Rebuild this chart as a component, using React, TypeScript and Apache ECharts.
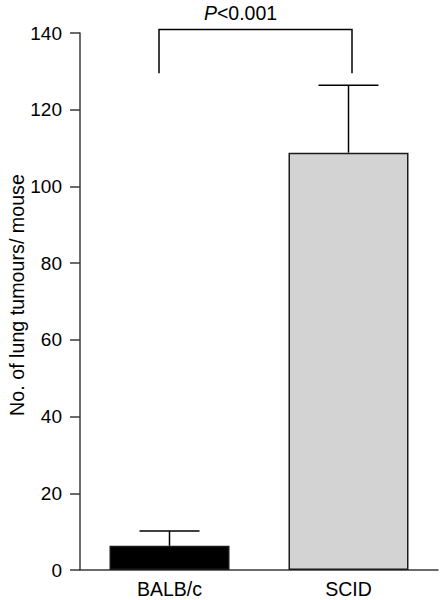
import React, { useEffect, useRef } from "react";
import * as echarts from "echarts";

const categories = ["BALB/c", "SCID"];
const meanValues = [6.3, 108.8];
const errorValues = [3.9, 17.6];
const barColors = ["#000000", "#d3d3d3"];
const yTicks = { min: 0, max: 140, interval: 20 };
const bracket = { from: 0, to: 1, low: 129.5, high: 140.9 };
const pValueText = "P<0.001";
const yAxisTitle = "No. of lung tumours/ mouse";

const FONT = "'Liberation Sans', Arial, Helvetica, sans-serif";
const AXIS_COLOR = "#3a3a3a";

export default function App() {
  const ref = useRef<HTMLDivElement>(null);

  useEffect(() => {
    if (!ref.current) return;
    const chart = echarts.init(ref.current, undefined, { renderer: "svg" });

    const errorData = categories.map((_, i) => [i, meanValues[i], meanValues[i] + errorValues[i]]);

    chart.setOption({
      animation: false,
      backgroundColor: "#ffffff",
      grid: { left: 80, right: 2, top: 33, bottom: 30, containLabel: false },
      xAxis: {
        type: "category",
        data: categories,
        axisLine: { show: true, lineStyle: { color: AXIS_COLOR, width: 1.5 } },
        axisTick: { show: false },
        axisLabel: { color: "#000", fontSize: 19.5, fontFamily: FONT, margin: 9 },
        splitLine: { show: false },
      },
      yAxis: {
        type: "value",
        min: yTicks.min,
        max: yTicks.max,
        interval: yTicks.interval,
        axisLine: { show: true, lineStyle: { color: AXIS_COLOR, width: 1.5 } },
        axisTick: { show: true, inside: false, length: 10, lineStyle: { color: AXIS_COLOR, width: 1.5 } },
        axisLabel: { color: "#000", fontSize: 19, fontFamily: FONT, margin: 18 },
        splitLine: { show: false },
      },
      graphic: [
        {
          type: "text",
          x: 17,
          y: 295,
          rotation: Math.PI / 2,
          style: {
            text: yAxisTitle,
            fontSize: 19.7,
            fontFamily: FONT,
            fill: "#000",
            align: "center",
            verticalAlign: "middle",
          },
        },
      ],
      series: [
        {
          type: "bar",
          data: meanValues.map((v, i) => ({
            value: v,
            itemStyle: {
              color: barColors[i],
              borderColor: "#1a1a1a",
              borderWidth: 1.5,
            },
          })),
          barWidth: 120,
          z: 2,
        },
        {
          type: "custom",
          z: 3,
          data: errorData,
          renderItem: (params: any, api: any) => {
            const x = api.value(0);
            const base = api.coord([x, api.value(1)]);
            const top = api.coord([x, api.value(2)]);
            const half = 30;
            const style = { stroke: "#000", lineWidth: 1.5 };
            return {
              type: "group",
              children: [
                { type: "line", shape: { x1: base[0], y1: base[1], x2: top[0], y2: top[1] }, style },
                { type: "line", shape: { x1: top[0] - half, y1: top[1], x2: top[0] + half, y2: top[1] }, style },
              ],
            };
          },
        },
        {
          type: "custom",
          z: 3,
          clip: false,
          data: [[bracket.from, bracket.to, bracket.low, bracket.high]],
          renderItem: (params: any, api: any) => {
            const l = api.coord([api.value(0), api.value(2)]);
            const r = api.coord([api.value(1), api.value(2)]);
            const t = api.coord([api.value(0), api.value(3)]);
            const lx = l[0] - 10.5;
            const rx = r[0] + 3.5;
            const style = { stroke: "#000", fill: "none", lineWidth: 1.5 };
            return {
              type: "group",
              children: [
                {
                  type: "polyline",
                  shape: { points: [[lx, l[1]], [lx, t[1]], [rx, t[1]], [rx, r[1]]] },
                  style,
                },
                {
                  type: "text",
                  x: (lx + rx) / 2 - 15,
                  y: t[1] - 16.5,
                  style: {
                    rich: {
                      i: { fontStyle: "italic", fontSize: 19.5, fontFamily: FONT, fill: "#000" },
                      n: { fontSize: 19.5, fontFamily: FONT, fill: "#000" },
                    },
                    text: "{i|" + pValueText.slice(0, 1) + "}{n|" + pValueText.slice(1) + "}",
                    align: "center",
                    verticalAlign: "middle",
                  },
                },
              ],
            };
          },
        },
      ],
    });

    return () => chart.dispose();
  }, []);

  return (
    <div
      ref={ref}
      style={{ position: "fixed", left: 0, top: 0, width: 440, height: 600, background: "#fff" }}
    />
  );
}
